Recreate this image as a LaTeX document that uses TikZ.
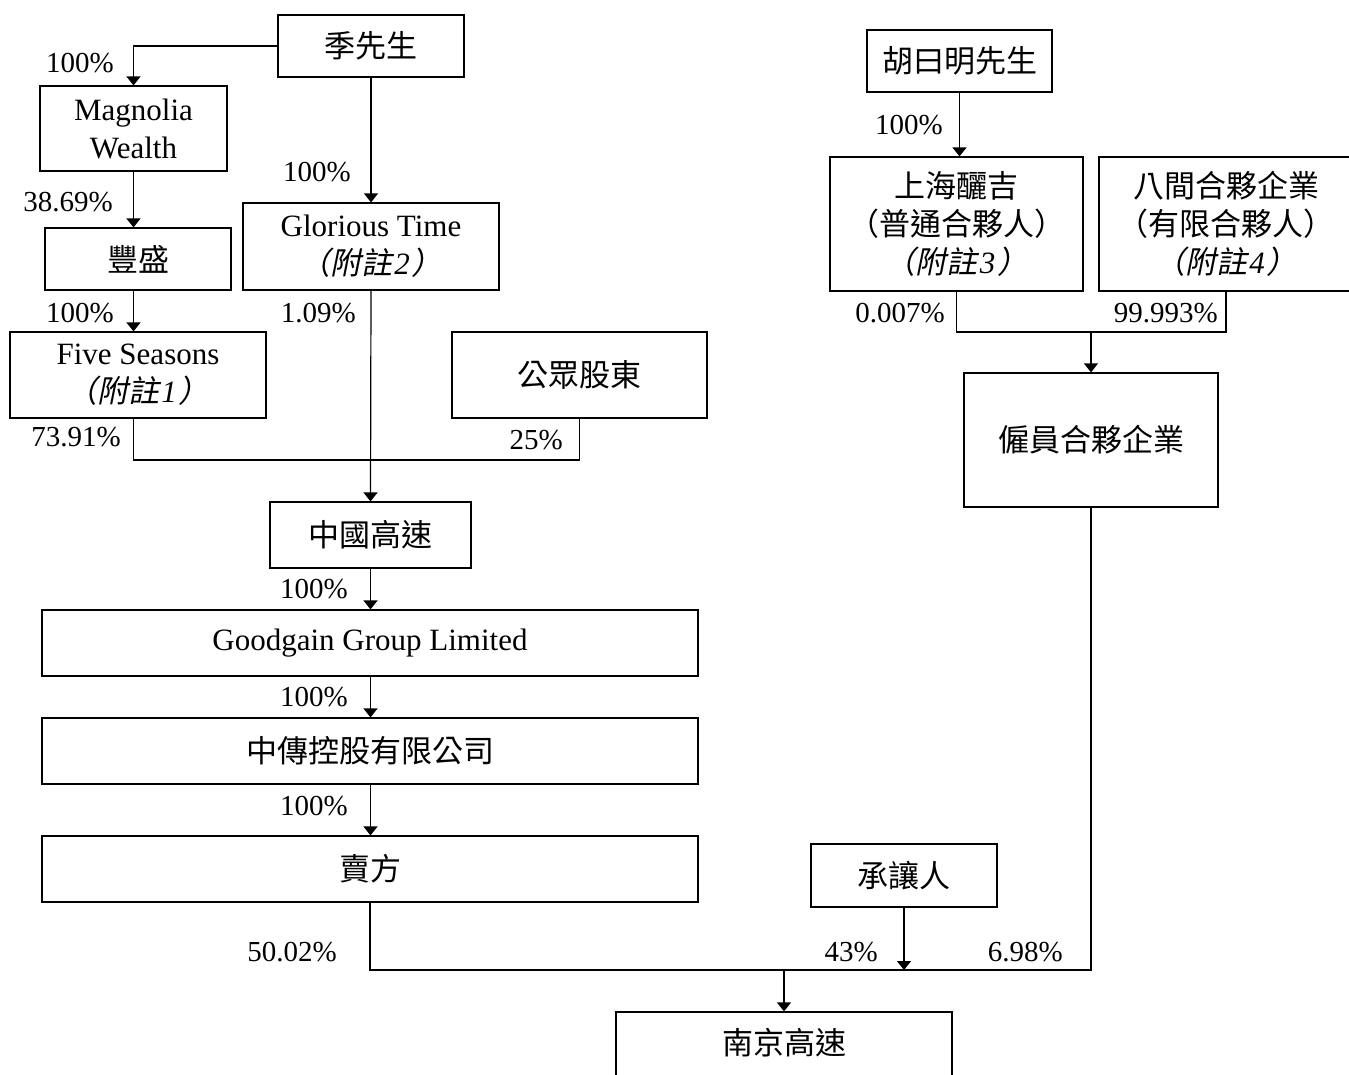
\documentclass[tikz,border=0pt]{standalone}
\usepackage{fontspec}
\setmainfont{Liberation Serif}
\newfontfamily\cjk{Noto Sans CJK TC}
\newfontfamily\cjkit{Noto Sans CJK TC}[FakeSlant=0.2]
\usetikzlibrary{arrows.meta,calc}
\newcommand{\note}[1]{{\cjkit （附註}\hspace{2pt}{\itshape #1}\hspace{2pt}{\cjkit ）}}
\begin{document}
\begin{tikzpicture}[x=1pt,y=-1pt,
  box/.style={draw,line width=1.2pt,inner sep=0pt,align=center,font=\fontsize{31}{38}\selectfont},
  lbl/.style={inner sep=0pt,font=\fontsize{29}{34}\selectfont},
  conn/.style={line width=1.2pt},
  arr/.style={line width=1.2pt,-{Triangle[width=14pt,length=9pt]}}]
\clip (0,0) rectangle (1349,1074);
\fill[white] (0,0) rectangle (1349,1074);
% boxes
\node[box,minimum width=186pt,minimum height=62pt] (ji) at (371,46) {\cjk 季先生};
\node[box,minimum width=187pt,minimum height=85pt] (mag) at (133.5,128.5) {Magnolia\\Wealth};
\node[box,minimum width=186pt,minimum height=62pt] (feng) at (138,259) {\cjk 豐盛};
\node[box,minimum width=256pt,minimum height=87pt] (glor) at (371,246.5) {Glorious Time\\\note{2}};
\node[box,minimum width=256pt,minimum height=86pt] (five) at (138,375) {Five Seasons\\\note{1}};
\node[box,minimum width=255pt,minimum height=86pt] (pub) at (579.5,375) {\cjk 公眾股東};
\node[box,minimum width=201pt,minimum height=66pt] (zg) at (370.5,535) {\cjk 中國高速};
\node[box,minimum width=656pt,minimum height=66pt] (good) at (370,643) {Goodgain Group Limited};
\node[box,minimum width=656pt,minimum height=66pt] (zc) at (370,751) {\cjk 中傳控股有限公司};
\node[box,minimum width=656pt,minimum height=66pt] (mf) at (370,869) {\cjk 賣方};
\node[box,minimum width=185pt,minimum height=62pt] (hu) at (959.5,61) {\cjk 胡曰明先生};
\node[box,minimum width=253pt,minimum height=134pt] (sh) at (956.5,224) {\cjk 上海釃吉\\\cjk （普通合夥人）\\\note{3}};
\node[box,minimum width=254pt,minimum height=134pt] (bj) at (1226,224) {\cjk 八間合夥企業\\\cjk （有限合夥人）\\\note{4}};
\node[box,minimum width=254pt,minimum height=134pt] (gy) at (1091,440) {\cjk 僱員合夥企業};
\node[box,minimum width=186pt,minimum height=63pt] (cr) at (904,875.5) {\cjk 承讓人};
\node[box,minimum width=336pt,minimum height=100pt] (nj) at (784,1062) {};
\node[inner sep=0pt,font=\cjk\fontsize{31}{36}\selectfont] (njt) at (784,1043) {南京高速};
% junctions
\coordinate (j1) at (133.5,460);
\coordinate (j2) at (1091,332);
\coordinate (j3) at (784,970);
% connectors
\draw[arr] (ji.west) -| (mag.north);
\draw[arr] (ji.south) -- (glor.north);
\draw[arr] (mag.south) -- (mag.south |- feng.north);
\draw[arr] (mag.south |- feng.south) -- (mag.south |- five.north);
\draw[conn] (mag.south |- five.south) -- (j1) -| (pub.south);
\draw[arr] (glor.south) -- (zg.north);
\draw[arr] (zg.south) -- (zg.south |- good.north);
\draw[arr] (zg.south |- good.south) -- (zg.south |- zc.north);
\draw[arr] (zg.south |- zc.south) -- (zg.south |- mf.north);
\draw[conn] (mf.south) -- (mf.south |- j3) -| (gy.south);
\draw[arr] (cr.south) -- (cr.south |- j3);
\draw[arr] (j3) -- (nj.north);
\draw[arr] (hu.south) -- (hu.south |- sh.north);
\draw[conn] (sh.south) -- (sh.south |- j2) -| (bj.south);
\draw[arr] (j2) -- (gy.north);
% labels
\node[lbl,anchor=east] (l1) at (114,63) {100\%};
\node[lbl,anchor=east] (l2) at (113,202) {38.69\%};
\node[lbl,anchor=east] (l3) at (114,313) {100\%};
\node[lbl,anchor=east] (l4) at (121,437) {73.91\%};
\node[lbl,anchor=east] (l5) at (351,172) {100\%};
\node[lbl,anchor=east] (l6) at (356,313) {1.09\%};
\node[lbl,anchor=east] (l7) at (563,440) {25\%};
\node[lbl,anchor=east] (l8) at (348,589) {100\%};
\node[lbl,anchor=east] (l9) at (348,697) {100\%};
\node[lbl,anchor=east] (l10) at (348,806) {100\%};
\node[lbl,anchor=east] (l11) at (337,952) {50.02\%};
\node[lbl,anchor=east] (l12) at (878,952) {43\%};
\node[lbl,anchor=east] (l13) at (1063,952) {6.98\%};
\node[lbl,anchor=east] (l14) at (943,125) {100\%};
\node[lbl,anchor=east] (l15) at (945,313) {0.007\%};
\node[lbl,anchor=east] (l16) at (1218,313) {99.993\%};
\end{tikzpicture}
\end{document}
